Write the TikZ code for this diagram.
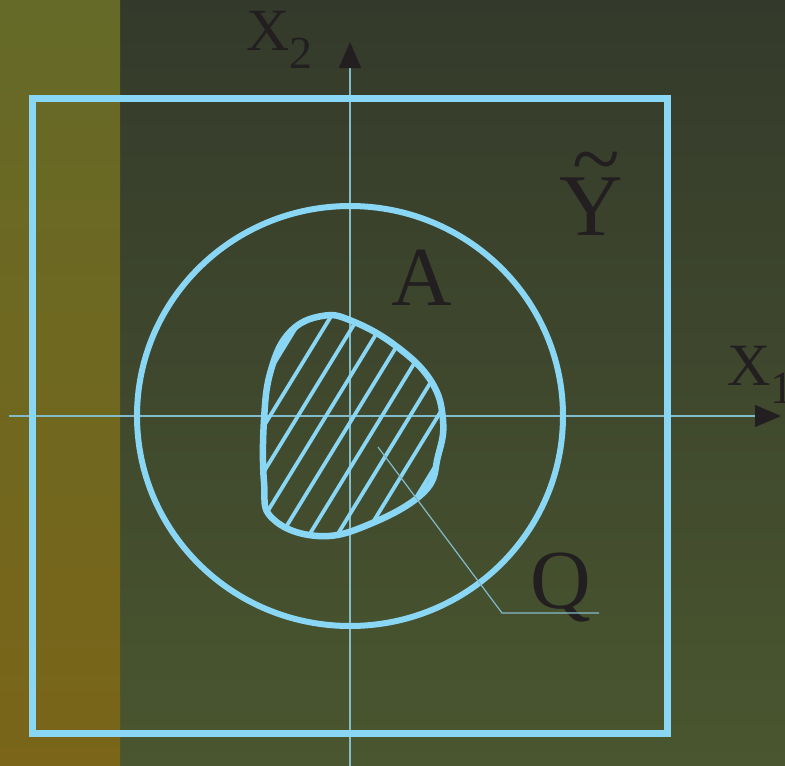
\documentclass[tikz,border=0pt]{standalone}
\usepackage{fontspec}
\setmainfont{Liberation Serif}
\usetikzlibrary{arrows.meta, positioning, calc}
\definecolor{setblue}{HTML}{8AD6F5}
\definecolor{axisblue}{HTML}{82BCCB}
\definecolor{inkdark}{HTML}{231F20}
\definecolor{bgtop}{HTML}{343A2B}
\definecolor{bgbottom}{HTML}{4A562F}
\definecolor{striptop}{HTML}{656A28}
\definecolor{stripbottom}{HTML}{7A6518}
\tikzset{
  framebox/.style={draw=setblue, line width=7pt},
  ringline/.style={draw=setblue, line width=6pt},
  blobline/.style={draw=setblue, line width=6.5pt},
  hatchline/.style={setblue, line width=3.8pt},
  axisline/.style={axisblue, line width=1.5pt,
    -{Triangle[length=26pt, width=22pt, color=inkdark]}},
  leader/.style={axisblue, line width=1.2pt},
  lbl/.style={inner sep=0pt, text=inkdark, anchor=base west},
}
\begin{document}
\begin{tikzpicture}[x=1pt, y=-1pt]
        \useasboundingbox (0,0) rectangle (785,766);
        % background
        \shade[top color=bgtop, bottom color=bgbottom] (0,0) rectangle (785,766);
        \shade[top color=striptop, bottom color=stripbottom] (0,0) rectangle (120,766);
        % axes
        \coordinate (o) at (350,416);
        \coordinate (xs) at (9,416);
        \coordinate (xe) at (781,416);
        \coordinate (ys) at (350,766);
        \coordinate (ye) at (350,42);
        \draw[axisline] (xs) -- (xe);
        \draw[axisline] (ys) -- (ye);
        % sets
        \draw[framebox] (32.7,98.3) rectangle (667.5,733);
        \draw[ringline] (o) ellipse [x radius=213pt, y radius=210pt];
        \begin{scope}
          \clip plot[smooth cycle, tension=0.7] coordinates {(322,316) (290,332) (271,370) (264,420)
            (264,482) (272,518) (318,536) (370,524) (424,492) (438,456) (443,420) (431,381)
            (396,346) (352,321)};
          \foreach \k in {-3,...,7}
            \draw[hatchline] ({270+28*\k-90},{416+147}) -- ({270+28*\k+90},{416-147});
        \end{scope}
        \draw[blobline] plot[smooth cycle, tension=0.7] coordinates {(322,316) (290,332) (271,370) (264,420)
            (264,482) (272,518) (318,536) (370,524) (424,492) (438,456) (443,420) (431,381)
            (396,346) (352,321)};
        % labels
        \node[lbl, font=\fontsize{60}{60}\selectfont] (x2) at (246,50) {X};
        \node[lbl, font=\fontsize{46}{46}\selectfont] (x2sub) at (289,68) {2};
        \node[lbl, font=\fontsize{60}{60}\selectfont] (x1) at (727,385) {X};
        \node[lbl, font=\fontsize{46}{46}\selectfont] (x1sub) at (770,403) {1};
        \node[lbl, font=\fontsize{88}{88}\selectfont] (ytil) at (559,235) {Y};
        \node[lbl, anchor=base, font=\fontsize{88}{88}\selectfont] (ytilmark) at (596,188) {\textasciitilde};
        \node[lbl, font=\fontsize{84}{84}\selectfont] (aset) at (391,305) {A};
        \node[lbl, font=\fontsize{84}{84}\selectfont] (qset) at (530,608) {Q};
        % leader to Q
        \coordinate (qin) at (378,447);
        \coordinate (qknee) at (502,613);
        \coordinate (qend) at (599,613);
        \draw[leader] (qin) -- (qknee) -- (qend);
      \end{tikzpicture}
\end{document}
